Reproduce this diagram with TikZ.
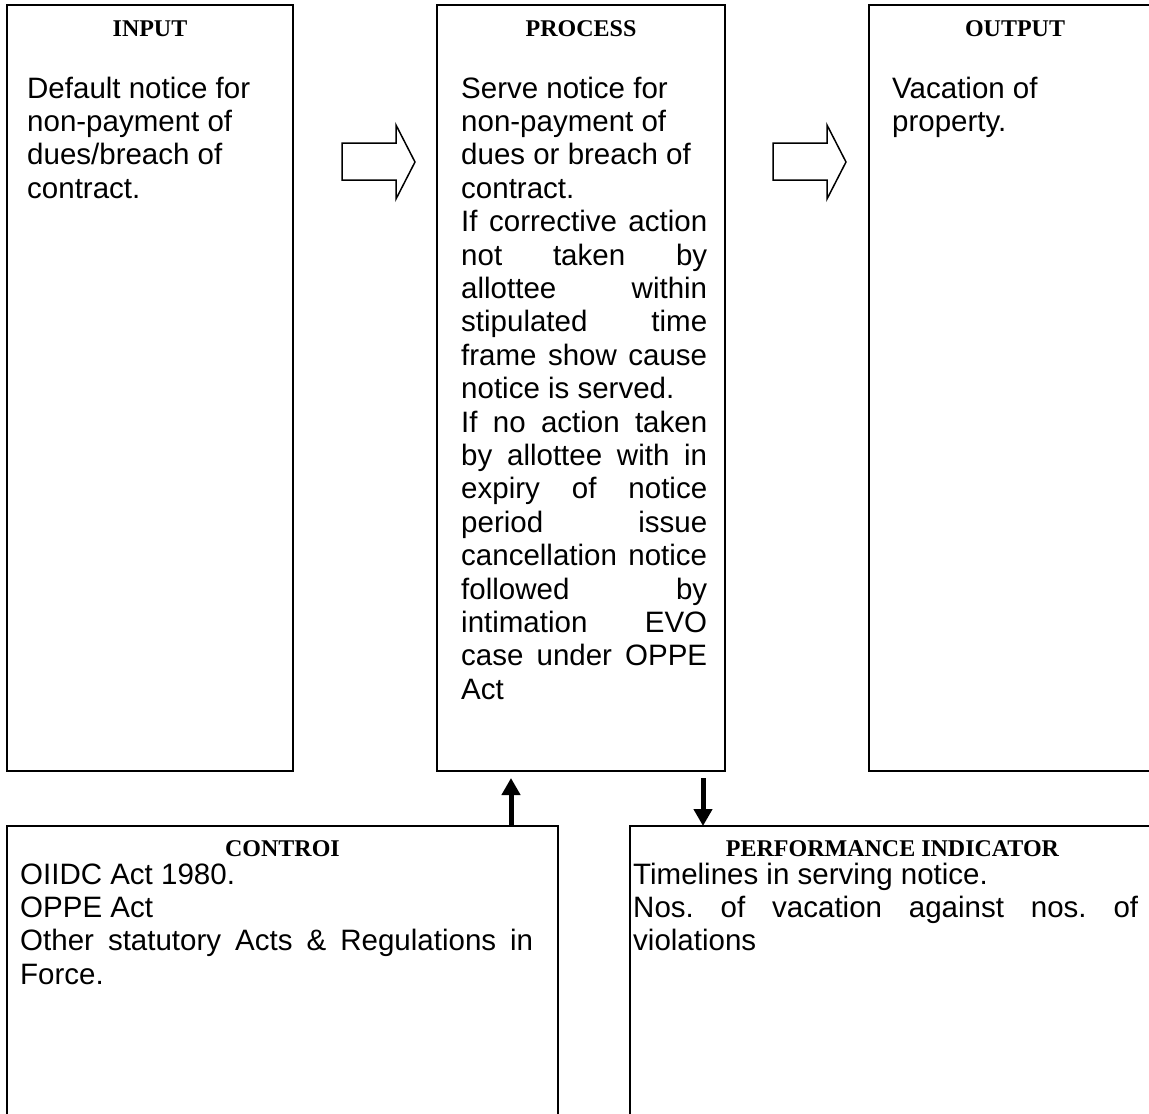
\documentclass[tikz,border=0pt]{standalone}
\usepackage{fontspec}
\setmainfont{Liberation Sans}
\newfontfamily\headfont{Liberation Serif}
\usetikzlibrary{arrows.meta,positioning}

\tikzset{
  panel/.style={draw, line width=1.6pt, anchor=north west, inner sep=0pt, outer sep=0pt},
  head/.style={font=\headfont\bfseries\fontsize{24}{28}\selectfont, anchor=base, inner sep=0pt},
  body/.style={font=\fontsize{29.5}{33.4}\selectfont, anchor=base west, inner sep=0pt, align=justify,
    execute at begin node={\frenchspacing\tolerance=10000\hyphenpenalty=10000\exhyphenpenalty=10000}},
  flowarrow/.style={draw, line width=1.5pt, line join=miter},
  thickarrow/.style={line width=5pt, -{Triangle[width=18pt,length=17pt]}}
}

\begin{document}
\begin{tikzpicture}[x=1pt,y=-1pt]
  \useasboundingbox (0,0) rectangle (1149,1114);
  \clip (0,0) rectangle (1149,1114);
  \path (7,5) node (input) [panel, minimum width=286pt, minimum height=766pt] {}
        (437,5) node (process) [panel, minimum width=288pt, minimum height=766pt] {}
        (869,5) node (output) [panel, minimum width=292pt, minimum height=766pt] {}
        (7,826) node (control) [panel, minimum width=551pt, minimum height=320pt] {}
        (630,826) node (perf) [panel, minimum width=525pt, minimum height=320pt] {};

  \node[head] (inputhead) at ([yshift=-31pt]input.north) {INPUT};
  \node[head] (processhead) at ([yshift=-31pt]process.north) {PROCESS};
  \node[head] (outputhead) at ([yshift=-31pt]output.north) {OUTPUT};
  \node[head] (controlhead) at ([yshift=-30pt]control.north) {CONTROI};
  \node[head] (perfhead) at ([yshift=-30pt]perf.north) {PERFORMANCE INDICATOR};

  \node[body, text width=260pt] (inputtext) at (27,98)
    {Default notice for\\non-payment of\\dues/breach of\\contract.};
  \node[body, text width=246pt] (processtext) at (461,98)
    {Serve notice for\\non-payment of\\dues or breach of\\contract.\par
     If corrective action\linebreak not taken by\linebreak allottee within\linebreak
     stipulated time\linebreak frame show cause\linebreak notice is served.\par
     If no action taken\linebreak by allottee with in\linebreak expiry of notice\linebreak
     period issue\linebreak cancellation notice\linebreak followed by\linebreak
     intimation EVO\linebreak case under OPPE\linebreak Act};
  \node[body, text width=250pt] (outputtext) at (892,98)
    {Vacation of\\property.};
  \node[body, text width=513pt] (controltext) at (20,884)
    {OIIDC Act 1980.\\OPPE Act\\Other statutory Acts \& Regulations in\linebreak Force.};
  \node[body, text width=505pt] (perftext) at (633,884)
    {Timelines in serving notice.\\Nos. of vacation against nos. of\linebreak violations};

  \foreach \x in {342,773}
    \draw[flowarrow, shift={(\x,0)}] (0,143) -- (54,143) -- (54,125) -- (73,162)
      -- (54,199) -- (54,180) -- (0,180) -- cycle;

  \coordinate (upx) at (511,0);
  \coordinate (downx) at (703,0);
  \draw[thickarrow] (control.north -| upx) -- ([yshift=-7pt]process.south -| upx);
  \draw[thickarrow] ([yshift=-7pt]process.south -| downx) -- (perf.north -| downx);
\end{tikzpicture}
\end{document}
